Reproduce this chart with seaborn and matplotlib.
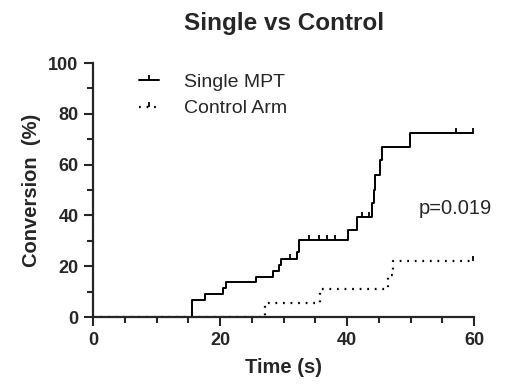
import matplotlib
matplotlib.use("Agg")
import matplotlib.pyplot as plt
from matplotlib.lines import Line2D
from matplotlib.ticker import MultipleLocator
import seaborn as sns
import pandas as pd

# step curves (time of event, cumulative conversion after it)
single_t = [0, 15.5, 17.6, 20.5, 21.0, 25.6, 28.3, 29.3, 29.6, 32.1, 32.4,
            40.2, 41.6, 43.9, 44.2, 44.4, 45.2, 45.5, 49.9, 60]
single_y = [0, 6.7, 8.9, 11.3, 13.7, 15.9, 18.1, 20.5, 22.8, 25.5, 30.3,
            34.3, 39.3, 44.9, 50.0, 55.9, 61.8, 66.8, 72.6, 72.6]
single_cens_t = [31.0, 34.0, 35.5, 36.8, 38.1, 42.3, 43.4, 57.2, 59.9]
single_cens_y = [22.8, 30.3, 30.3, 30.3, 30.3, 39.3, 39.3, 72.6, 72.6]

control_t = [0, 27.1, 35.7, 46.4, 47.3, 60]
control_y = [0, 5.6, 11.1, 16.7, 22.2, 22.2]
control_cens_t = [59.9]
control_cens_y = [22.2]

p_text = "p=0.019"

sns.set_style("ticks")
plt.rcParams['font.family'] = ['Liberation Sans', 'DejaVu Sans']

fig, ax = plt.subplots(figsize=(5.06, 3.89), dpi=100)
fig.subplots_adjust(left=0.184, right=0.937, bottom=0.185, top=0.838)

single = pd.DataFrame({'t': single_t, 'y': single_y})
control = pd.DataFrame({'t': control_t, 'y': control_y})

sns.lineplot(data=single, x='t', y='y', ax=ax, estimator=None, sort=True,
             drawstyle='steps-post', color='black', linewidth=1.4)
sns.lineplot(data=control, x='t', y='y', ax=ax, estimator=None, sort=True,
             drawstyle='steps-post', color='black', linewidth=1.6,
             linestyle=(0, (0.8, 2.6)))

# censor ticks
sns.scatterplot(x=single_cens_t, y=single_cens_y, ax=ax, marker=2, s=14,
                color='black', linewidth=1.3)
sns.scatterplot(x=control_cens_t, y=control_cens_y, ax=ax, marker=2, s=14,
                color='black', linewidth=1.3)

ax.text(51.2, 42.9, p_text, fontsize=14.5, va='center', ha='left')

ax.set_xlim(0, 60)
ax.set_ylim(0, 100)
ax.xaxis.set_major_locator(MultipleLocator(20))
ax.xaxis.set_minor_locator(MultipleLocator(5))
ax.yaxis.set_major_locator(MultipleLocator(20))
ax.yaxis.set_minor_locator(MultipleLocator(10))
ax.tick_params(which='major', length=6.5, width=1.5, labelsize=13, pad=4)
ax.tick_params(which='minor', length=4, width=1.5)
for lbl in ax.get_xticklabels() + ax.get_yticklabels():
    lbl.set_fontweight('bold')
sns.despine(ax=ax)
for s in ['left', 'bottom']:
    ax.spines[s].set_linewidth(1.6)

ax.set_xlabel('Time (s)', fontsize=14.5, fontweight='bold', labelpad=7)
ax.set_ylabel('Conversion  (%)', fontsize=14.5, fontweight='bold', labelpad=5)
ax.set_title('Single vs Control', fontsize=17.5, fontweight='bold', pad=24)

handles = [
    Line2D([], [], color='black', lw=1.4, marker=2, ms=3.5, mew=1.3),
    Line2D([], [], color='black', lw=1.6, ls=(0, (0.8, 2.6)), marker=2, ms=3.5, mew=1.3),
]
ax.legend(handles, ['Single MPT', 'Control Arm'], loc='upper left',
          bbox_to_anchor=(0.075, 1.028), frameon=False, fontsize=14,
          handlelength=1.0, handletextpad=1.3, labelspacing=0.45)

fig.savefig('out.png', dpi=100)
